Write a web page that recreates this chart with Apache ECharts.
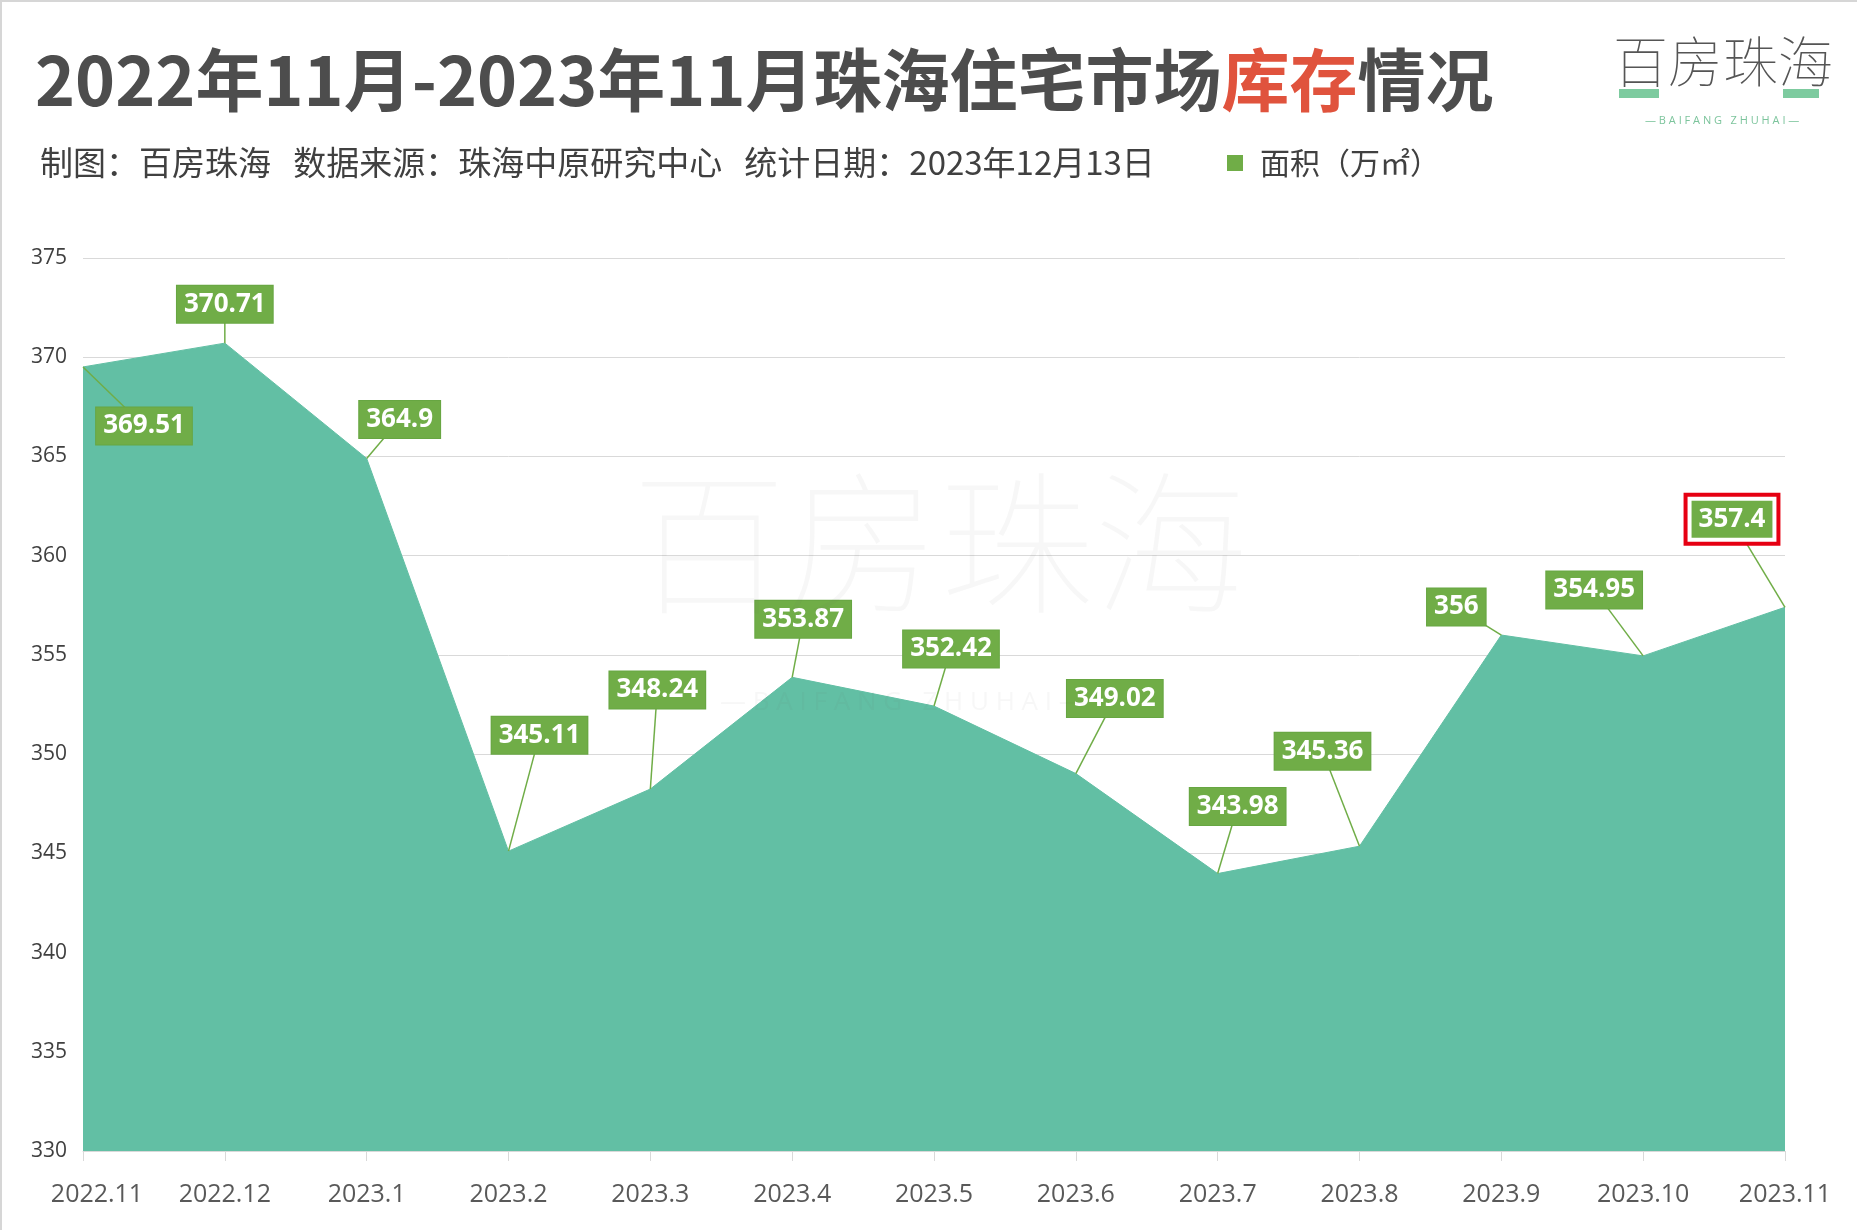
<!DOCTYPE html>
<html>
<head>
<meta charset="utf-8">
<script src="https://cdn.jsdelivr.net/npm/echarts@6/dist/echarts.min.js"></script>
<style>
html,body{margin:0;padding:0;background:#fff;}
#c{width:1857px;height:1230px;}
</style>
</head>
<body>
<div id="c"></div>
<script>
// ---- data ----
const categories = ['2022.11','2022.12','2023.1','2023.2','2023.3','2023.4','2023.5','2023.6','2023.7','2023.8','2023.9','2023.10','2023.11'];
const areaValues = [369.51, 370.71, 364.9, 345.11, 348.24, 353.87, 352.42, 349.02, 343.98, 345.36, 356, 354.95, 357.4];
const seriesName = '面积（万㎡）';
const yMin = 330, yMax = 375, yStep = 5;
const titleMain = '2022年11月-2023年11月珠海住宅市场';
const titleRed = '库存';
const titleEnd = '情况';
const subtitleText = '制图：百房珠海   数据来源：珠海中原研究中心   统计日期：2023年12月13日';
const highlightIndex = areaValues.length - 1;

// ---- label layout (offsets of value boxes from their points, px) ----
const labelOffsets = [[61,59],[0,-39],[33,-39],[31,-116],[7,-99],[11,-58],[17,-57],[39,-75],[20,-67],[-37,-95],[-45,-28],[-49,-66],[-53,-88]];

const GREEN = '#70ad47';
const TEAL = '#62bfa4';
const CJK = '"Noto Sans CJK SC", "Noto Sans", sans-serif';
const NUM = '"Open Sans", "Noto Sans", sans-serif';

const chart = echarts.init(document.getElementById('c'), null, {renderer: 'canvas'});

function renderValueLabel(params, api) {
  const i = params.dataIndex;
  const v = api.value(1);
  const p = api.coord([api.value(0), v]);
  const o = labelOffsets[i];
  const cx = p[0] + o[0], cy = p[1] + o[1];
  let textStyle;
  if (i === highlightIndex) {
    textStyle = {
      text: '{g|' + v + '}',
      align: 'center', verticalAlign: 'middle',
      backgroundColor: '#fff', borderColor: '#e60012', borderWidth: 4, padding: [4, 4],
      rich: {g: {backgroundColor: GREEN, fill: '#fff', fontSize: 26, fontWeight: 'bold', fontFamily: NUM, padding: [0, 7], lineHeight: 37, height: 37}}
    };
  } else {
    textStyle = {
      text: String(v),
      align: 'center', verticalAlign: 'middle',
      fill: '#fff', fontSize: 26, fontWeight: 'bold', fontFamily: NUM, lineHeight: 29,
      backgroundColor: GREEN, borderColor: '#67a642', borderWidth: 1, padding: [4, 7]
    };
  }
  return {
    type: 'group',
    children: [
      {type: 'line', shape: {x1: p[0], y1: p[1], x2: cx, y2: cy}, style: {stroke: GREEN, lineWidth: 1.5}},
      {type: 'text', x: cx, y: cy, style: textStyle}
    ]
  };
}

const option = {
  backgroundColor: '#fff',
  animation: false,
  title: [
    {
      text: titleMain + '{r|' + titleRed + '}' + titleEnd,
      left: 35, top: 38, padding: 0,
      textStyle: {
        fontSize: 68, fontWeight: 'bold', color: '#4d4d4d', fontFamily: CJK, lineHeight: 84,
        rich: {r: {fontSize: 68, fontWeight: 'bold', color: '#e0533d', fontFamily: CJK, lineHeight: 84}}
      }
    },
    {
      text: subtitleText,
      left: 40, top: 142, padding: 0,
      textStyle: {fontSize: 33, fontWeight: 'normal', color: '#404040', fontFamily: CJK, lineHeight: 40}
    }
  ],
  legend: {
    left: 1227, top: 145, padding: 0,
    icon: 'rect', itemWidth: 16, itemHeight: 16,
    data: [{name: seriesName, itemStyle: {color: GREEN}}],
    textStyle: {fontSize: 30, color: '#404040', fontFamily: CJK, lineHeight: 36, padding: [0, 0, 0, 12]}
  },
  grid: {left: 83, right: 72, top: 258, bottom: 79, containLabel: false},
  xAxis: {
    type: 'category',
    data: categories,
    boundaryGap: false,
    axisLine: {show: true, lineStyle: {color: '#d9d9d9', width: 1}},
    axisTick: {show: true, length: 10, lineStyle: {color: '#d9d9d9'}},
    axisLabel: {
      fontSize: 25, color: '#595959', fontFamily: NUM, margin: 31, interval: 0,
      formatter: function (v, i) { return i === 0 ? '{f|' + v + '}' : v; },
      rich: {f: {fontSize: 25, color: '#595959', fontFamily: NUM, padding: [0, 0, 0, 28]}}
    },
    splitLine: {show: false}
  },
  yAxis: {
    type: 'value',
    min: yMin, max: yMax, interval: yStep,
    axisLine: {show: false},
    axisTick: {show: false},
    axisLabel: {fontSize: 21, color: '#404040', fontFamily: NUM, margin: 16},
    splitLine: {lineStyle: {color: '#d9d9d9', width: 1}}
  },
  series: [
    {
      name: seriesName,
      type: 'line',
      data: areaValues,
      showSymbol: false,
      lineStyle: {color: TEAL, width: 1},
      itemStyle: {color: TEAL},
      areaStyle: {color: TEAL, opacity: 1},
      emphasis: {disabled: true},
      z: 2
    },
    {
      name: 'valueLabels',
      type: 'custom',
      data: areaValues.map((v, i) => [i, v]),
      renderItem: renderValueLabel,
      silent: true,
      z: 5
    }
  ],
  graphic: [
    // frame
    {type: 'line', shape: {x1: 0, y1: 1, x2: 1857, y2: 1}, style: {stroke: '#d6d6d6', lineWidth: 2}, silent: true},
    {type: 'line', shape: {x1: 1, y1: 0, x2: 1, y2: 1230}, style: {stroke: '#d6d6d6', lineWidth: 2}, silent: true},
    // logo
    {type: 'rect', shape: {x: 1619, y: 89, width: 40, height: 9}, style: {fill: '#7dcb9f'}, silent: true},
    {type: 'rect', shape: {x: 1783, y: 89, width: 36, height: 9}, style: {fill: '#7dcb9f'}, silent: true},
    {type: 'text', left: 1613, top: 34, silent: true,
      style: {text: '百房珠海', font: '100 55px ' + CJK, fill: '#555'}},
    {type: 'text', left: 1645, top: 115, silent: true,
      style: {text: '— B A I F A N G   Z H U H A I —', font: '11px ' + NUM, fill: '#7cc49c'}},
    // watermark
    {type: 'text', left: 632, top: 466, silent: true, z: 100,
      style: {text: '百房珠海', font: '100 154px ' + CJK, fill: 'rgba(90,90,90,0.05)'}},
    {type: 'text', left: 720, top: 690, silent: true, z: 100,
      style: {text: '— B A I F A N G   Z H U H A I —', font: '26px ' + NUM, fill: 'rgba(90,90,90,0.05)'}}
  ]
};

chart.setOption(option);
</script>
</body>
</html>
